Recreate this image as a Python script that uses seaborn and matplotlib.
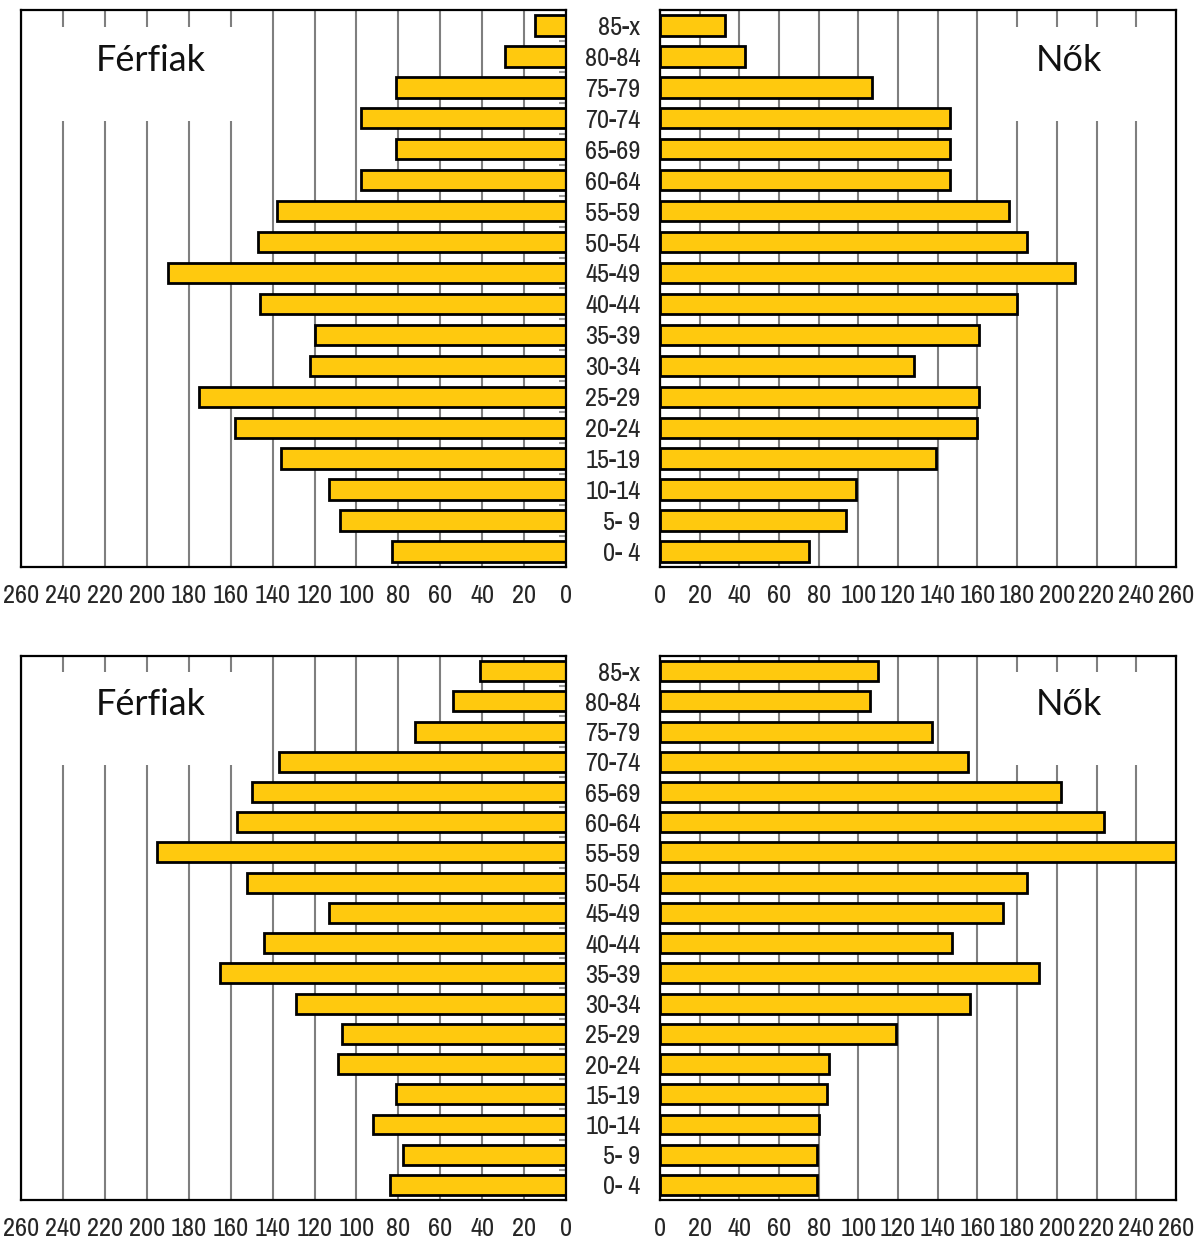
import numpy as np
import matplotlib
matplotlib.use('Agg')
import matplotlib.pyplot as plt
import matplotlib.patches as mpatches
from matplotlib import font_manager
import seaborn as sns

# ── Data (thousand persons) ─────────────────────────────────
ages = ['85-x', '80-84', '75-79', '70-74', '65-69', '60-64', '55-59', '50-54', '45-49',
        '40-44', '35-39', '30-34', '25-29', '20-24', '15-19', '10-14', '5- 9', '0- 4']

men_top   = [15, 29, 81, 98, 81, 98, 138, 147, 190, 146, 120, 122, 175, 158, 136, 113, 108, 83]
women_top = [33, 43, 107, 146, 146, 146, 176, 185, 209, 180, 161, 128, 161, 160, 139, 99, 94, 75]

men_bot   = [41, 54, 72, 137, 150, 157, 195, 152, 113, 144, 165, 129, 107, 109, 81, 92, 78, 84]
women_bot = [110, 106, 137, 155, 202, 224, 260, 185, 173, 147, 191, 156, 119, 85, 84, 80, 79, 79]

xticks = list(range(0, 261, 20))

# ── Fonts: look for a narrow/condensed sans for the tick labels ──
narrow = None
for f in font_manager.fontManager.ttflist:
    if ('Narrow' in f.name or 'Condensed' in f.name) and 'Mono' not in f.name:
        narrow = f.name
        break
TICK_FAMILY = [narrow] if narrow else []
TICK_FAMILY += ['Liberation Sans', 'DejaVu Sans']
TICK_FS = 19 if narrow else 14

# ── Style ────────────────────────────────────────────────────
sns.set_style('white')
plt.rcParams['font.family'] = TICK_FAMILY

BAR = '#FFC90E'
GRID = '#7f7f7f'

fig = plt.figure(figsize=(11.96, 12.45), dpi=100)

rows = [(0.5446, 0.4474, men_top, women_top),
        (0.0361, 0.4370, men_bot, women_bot)]


def style_axis(ax):
    ax.set_xlim(0, 260)
    ax.set_xticks(xticks)
    ax.set_xticklabels([str(t) for t in xticks])
    ax.grid(axis='x', color=GRID, linewidth=1.5)
    ax.grid(axis='y', visible=False)
    ax.set_axisbelow(True)
    for sp in ax.spines.values():
        sp.set_visible(True)
        sp.set_color('black')
        sp.set_linewidth(1.6)
    ax.tick_params(axis='x', which='major', direction='out', length=7, width=1.5,
                   color='black', labelsize=TICK_FS, pad=5)
    ax.set_yticks(np.arange(-0.5, len(ages), 1), minor=True)
    ax.set_xlabel('')
    ax.set_ylabel('')


for bottom, height, men, women in rows:
    # ── Men (left, reversed axis) ─────────────────────────
    axl = fig.add_axes([0.0176, bottom, 0.4557, height])
    sns.barplot(x=men, y=ages, orient='h', color=BAR, saturation=1,
                edgecolor='black', linewidth=2, width=0.66, ax=axl)
    style_axis(axl)
    axl.set_xlim(260, 0)
    axl.yaxis.tick_right()
    axl.set_yticklabels([])
    axl.tick_params(axis='y', which='major', length=0)
    axl.tick_params(axis='y', which='minor', direction='in', length=5, width=1.5,
                    color='#9a9a9a')
    axl.add_patch(mpatches.Rectangle((150, 0.80), 100, 0.17,
                                     transform=axl.get_xaxis_transform(),
                                     facecolor='white', edgecolor='none', zorder=0.8))
    axl.text(198, 0.91, 'Férfiak', transform=axl.get_xaxis_transform(),
             ha='center', va='center', fontsize=26, family=['Lato', 'DejaVu Sans'],
             color='#111111', zorder=3)

    # ── Women (right) ─────────────────────────────────────
    axr = fig.add_axes([0.5518, bottom, 0.4314, height])
    sns.barplot(x=women, y=ages, orient='h', color=BAR, saturation=1,
                edgecolor='black', linewidth=2, width=0.66, ax=axr)
    style_axis(axr)
    axr.tick_params(axis='y', which='major', length=0, pad=14, labelsize=TICK_FS)
    axr.tick_params(axis='y', which='minor', direction='out', length=6, width=1.6,
                    color='black')
    axr.add_patch(mpatches.Rectangle((172, 0.80), 84, 0.17,
                                     transform=axr.get_xaxis_transform(),
                                     facecolor='white', edgecolor='none', zorder=0.8))
    axr.text(206, 0.91, 'Nők', transform=axr.get_xaxis_transform(),
             ha='center', va='center', fontsize=26, family=['Lato', 'DejaVu Sans'],
             color='#111111', zorder=3)

plt.savefig('out.png', dpi=100)
